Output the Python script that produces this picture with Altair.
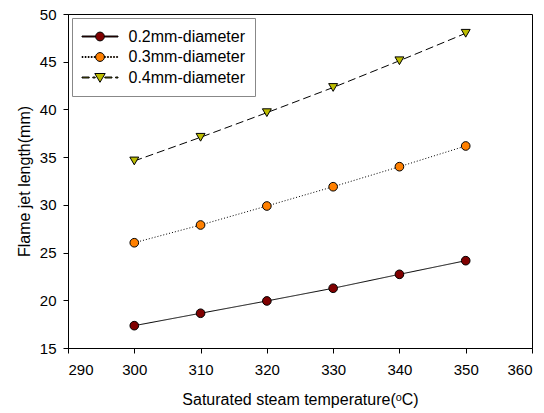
import math
import altair as alt
import pandas as pd

temps = [300, 310, 320, 330, 340, 350]
series_names = ["0.2mm-diameter", "0.3mm-diameter", "0.4mm-diameter"]
d02 = [17.34, 18.64, 19.93, 21.26, 22.72, 24.15]
d03 = [26.03, 27.89, 29.88, 31.9, 34.0, 36.17]
d04 = [34.6, 37.08, 39.66, 42.3, 45.1, 47.98]
fills = ["#800000", "#ff8000", "#bcbc00"]
marker_shapes = ["circle", "circle", "triangle-down"]
marker_sizes = [75, 75, 80]
dashes = [[1, 0], [1, 2], [8, 4]]
x_ticks = [290, 300, 310, 320, 330, 340, 350, 360]
y_ticks = [15, 20, 25, 30, 35, 40, 45, 50]

rows = []
for name, vals in zip(series_names, [d02, d03, d04]):
    for t, v in zip(temps, vals):
        rows.append({"temp": t, "length": v, "series": name})
df = pd.DataFrame(rows)


# legend symbol paths (line through marker), unit = 8px; line parts as thin bars
def seg_path(x0, x1, dash, gap, h=0.06):
    parts = []
    x = x0
    while x < x1 - 1e-6:
        e = min(x + dash, x1)
        parts.append(f"M{x:.3f},{-h}L{e:.3f},{-h}L{e:.3f},{h}L{x:.3f},{h}Z")
        x = e + gap
    return "".join(parts)


def both_sides(dash, gap, r):
    return seg_path(-2.25, -r, dash, gap) + seg_path(r, 2.25, dash, gap)


def poly_circle(r, n=24):
    pts = [(r * math.cos(2 * math.pi * k / n), r * math.sin(2 * math.pi * k / n)) for k in range(n)]
    return "M" + "L".join(f"{a:.3f},{b:.3f}" for a, b in pts) + "Z"


circ = poly_circle(0.55)
tri = "M-0.65,-0.5L0.65,-0.5L0,0.6Z"
leg_paths = [
    both_sides(10, 0, 0.55) + circ,
    both_sides(0.13, 0.25, 0.55) + circ,
    both_sides(0.9, 0.45, 0.6) + tri,
]

leg = alt.Legend(
    title=None, orient="none", legendX=4, legendY=4,
    padding=10, strokeColor="#888888", fillColor="white",
    symbolSize=256, symbolStrokeWidth=1, symbolOffset=9.5,
    labelOffset=20, labelFont="Liberation Sans", labelFontSize=16, labelColor="black",
    rowPadding=3.5,
)

xs = alt.Scale(domain=[290, 360], nice=False)
ys = alt.Scale(domain=[15, 50], nice=False)
X = alt.X("temp:Q", scale=xs,
          axis=alt.Axis(values=x_ticks, title="Saturated steam temperature(ᵒC)"))
Y = alt.Y("length:Q", scale=ys,
          axis=alt.Axis(values=y_ticks, title="Flame jet length(mm)"))

base = alt.Chart(df)
layers = []
for name, dash in zip(series_names, dashes):
    layers.append(
        base.transform_filter(alt.datum.series == name)
        .mark_line(color="black", strokeWidth=1, strokeDash=dash)
        .encode(x=X, y=Y)
    )
for name, col, shp, sz in zip(series_names, fills, marker_shapes, marker_sizes):
    layers.append(
        base.transform_filter(alt.datum.series == name)
        .mark_point(shape=shp, filled=True, size=sz, fill=col, stroke="black",
                    strokeWidth=1, opacity=1)
        .encode(x=X, y=Y)
    )

legend_layer = base.transform_filter(alt.datum.temp > 1000).mark_point(
    filled=True, size=256, stroke="black", strokeWidth=1, opacity=1
).encode(
    x=X, y=Y,
    fill=alt.Fill("series:N", scale=alt.Scale(domain=series_names, range=fills), legend=leg),
    shape=alt.Shape("series:N", scale=alt.Scale(domain=series_names, range=leg_paths), legend=leg),
)
layers.append(legend_layer)

chart = alt.layer(*layers).properties(
    width=464, height=334,
    autosize=alt.AutoSizeParams(type="none"),
    padding={"left": 60, "top": 6, "right": 4, "bottom": 64},
).configure_view(
    stroke="black", strokeWidth=1
).configure_axis(
    grid=False, domainColor="black", tickColor="black", tickSize=5,
    labelFont="Liberation Sans", labelFontSize=15, labelColor="black",
    titleFont="Liberation Sans", titleFontSize=16, titleFontWeight="normal", titleColor="black",
    labelPadding=7,
).configure_axisX(titlePadding=14, labelPadding=9).configure_axisY(titlePadding=7)

chart.save("out.html", embed_options={"renderer": "svg", "actions": False})
